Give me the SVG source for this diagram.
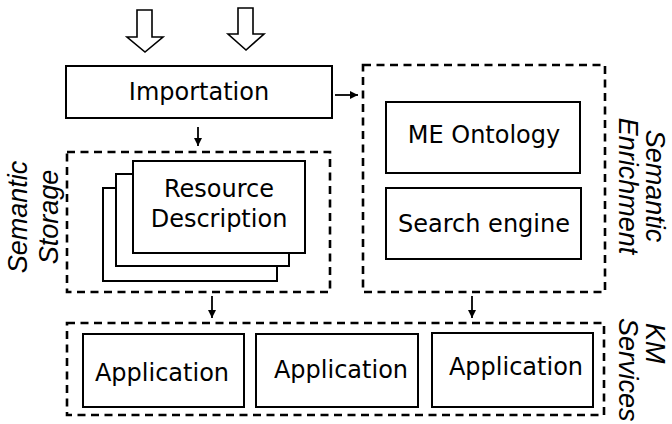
<svg xmlns="http://www.w3.org/2000/svg" width="672" height="424" viewBox="0 0 672 424">
<defs>
<marker id="ah" viewBox="0 0 10 10" refX="10" refY="5" markerWidth="8" markerHeight="8" markerUnits="userSpaceOnUse" orient="auto">
<path d="M0,0 L10,5 L0,10 z" fill="#000"/>
</marker>
<style>
.box{fill:#fff;stroke:#000;stroke-width:2}
.dash{fill:none;stroke:#000;stroke-width:2.6;stroke-dasharray:8 5.5}
.t{font-family:"DejaVu Sans",Verdana,sans-serif;font-size:24px;fill:#000;text-anchor:middle}
.lbl{font-family:"Liberation Sans",Arial,sans-serif;font-style:italic;font-size:27px;fill:#000}
.hollow{fill:#fff;stroke:#000;stroke-width:1.6;stroke-linejoin:miter}
.conn{stroke:#000;stroke-width:1.8;fill:none}
</style>
</defs>
<rect width="672" height="424" fill="#fff"/>

<g id="input-arrows">
<path class="hollow" d="M137,10 L152,10 L152,37 L163,37 L145,52 L127,37 L137,37 Z"/>
<path class="hollow" d="M238,8 L253,8 L253,34 L264,34 L246,50 L228,34 L238,34 Z"/>
</g>

<g id="importation">
<rect class="box" x="66" y="66" width="266" height="52"/>
<text class="t" x="199" y="100">Importation</text>
</g>

<g id="semantic-storage">
<rect class="dash" x="67" y="152" width="263" height="140"/>
<text class="lbl" text-anchor="middle" transform="translate(27,217) rotate(-90)">Semantic</text>
<text class="lbl" text-anchor="middle" transform="translate(58,217) rotate(-90)">Storage</text>
</g>

<g id="resource-description">
<rect class="box" x="103" y="188" width="174" height="93"/>
<rect class="box" x="116" y="174" width="173" height="92"/>
<rect class="box" x="133" y="161" width="172" height="92"/>
<text class="t" x="219" y="197">Resource</text>
<text class="t" x="219" y="227">Description</text>
</g>

<g id="semantic-enrichment">
<rect class="dash" x="363" y="65" width="242" height="227"/>
<text class="lbl" text-anchor="middle" transform="translate(646,186) rotate(90)">Semantic</text>
<text class="lbl" text-anchor="middle" transform="translate(619,186) rotate(90)">Enrichment</text>
</g>

<g id="me-ontology">
<rect class="box" x="386" y="102" width="194" height="71"/>
<text class="t" x="484" y="143">ME Ontology</text>
</g>

<g id="search-engine">
<rect class="box" x="386" y="188" width="195" height="71"/>
<text class="t" x="484" y="232">Search engine</text>
</g>

<g id="km-services">
<rect class="dash" x="67" y="323" width="537" height="92"/>
<text class="lbl" transform="translate(646,323) rotate(90)">KM</text>
<text class="lbl" transform="translate(619,318) rotate(90)">Services</text>
</g>

<g id="application-1">
<rect class="box" x="83" y="334" width="161" height="73"/>
<text class="t" x="162" y="381">Application</text>
</g>
<g id="application-2">
<rect class="box" x="256" y="334" width="162" height="73"/>
<text class="t" x="341" y="378">Application</text>
</g>
<g id="application-3">
<rect class="box" x="432" y="333" width="161" height="74"/>
<text class="t" x="516" y="375">Application</text>
</g>

<g id="connectors">
<line class="conn" x1="198" y1="127" x2="198" y2="146" marker-end="url(#ah)"/>
<line class="conn" x1="335" y1="95" x2="358" y2="95" marker-end="url(#ah)"/>
<line class="conn" x1="212" y1="296" x2="212" y2="318" marker-end="url(#ah)"/>
<line class="conn" x1="472" y1="296" x2="472" y2="318" marker-end="url(#ah)"/>
</g>
</svg>
